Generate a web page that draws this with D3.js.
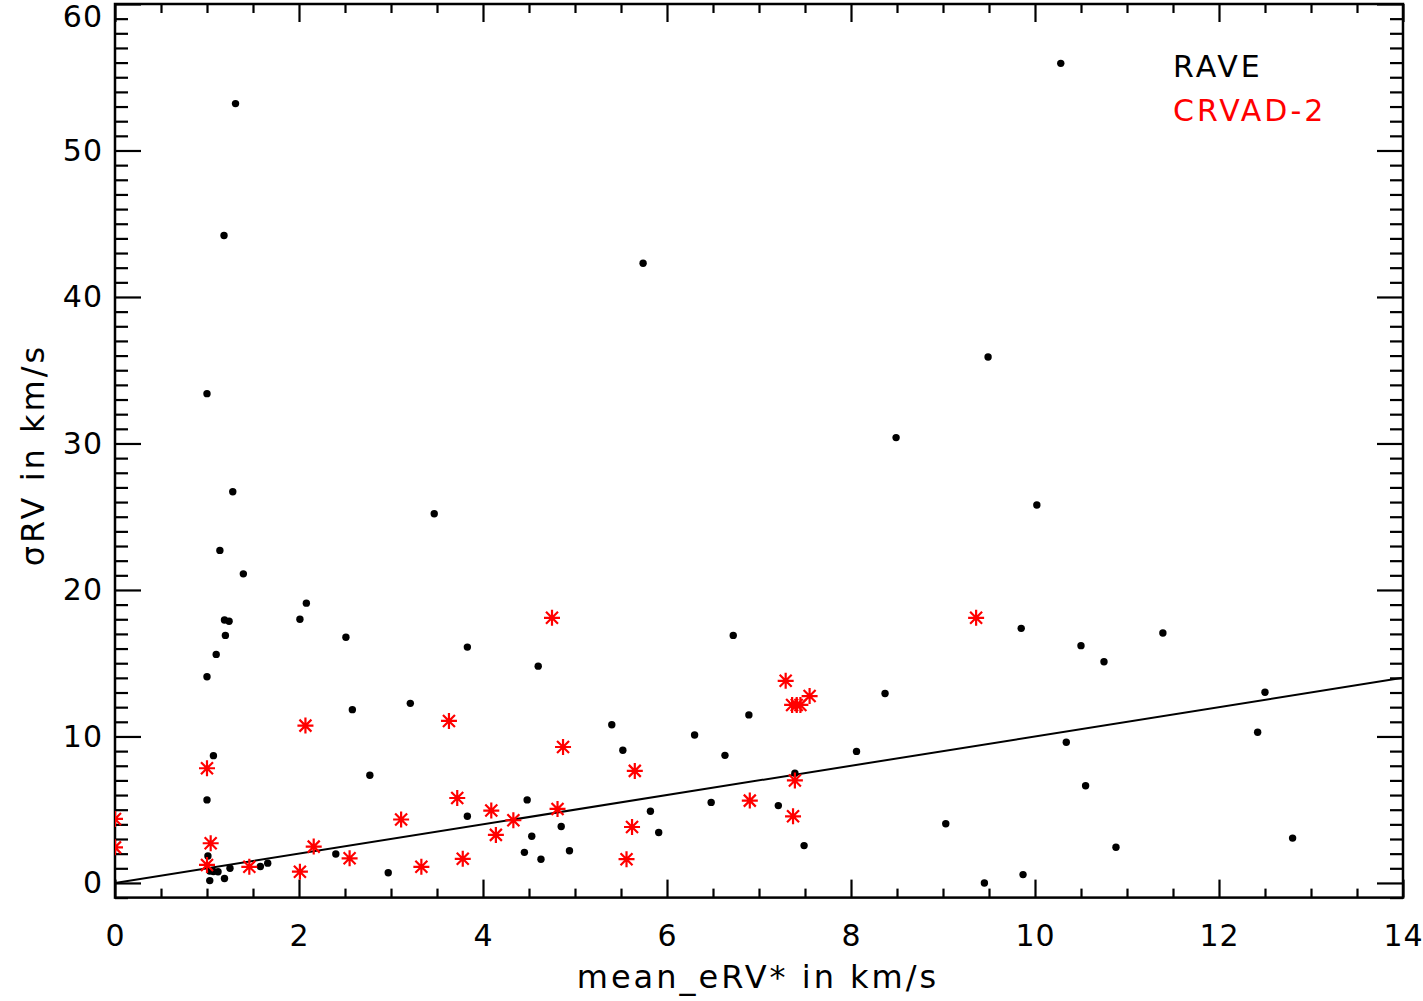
<!DOCTYPE html>
<html>
<head>
<meta charset="utf-8">
<script src="https://cdn.jsdelivr.net/npm/d3@7"></script>
<style>
  body { margin: 0; background: #fff; }
  svg text { font-family: "DejaVu Sans", sans-serif; }
</style>
</head>
<body>
<svg id="chart" width="1423" height="1001"></svg>
<script>
// RAVE repeat observations (black dots)
const raveX = [10.28, 1.31, 5.74, 1.185, 9.49, 1.0, 8.49, 1.28, 3.47, 10.02,
  1.14, 1.395, 2.08, 2.01, 1.19, 1.24, 1.2, 2.51, 9.85, 11.39,
  6.72, 3.83, 10.5, 1.10, 10.75, 4.6, 1.0, 8.37, 12.5, 3.21,
  2.58, 5.4, 6.89, 6.30, 12.42, 10.34, 5.52, 8.06, 6.63, 1.07,
  7.39, 2.77, 7.21, 6.48, 10.55, 1.0, 4.48, 5.82, 3.83, 9.03,
  5.91, 4.53, 4.85, 12.8, 10.88, 7.49, 4.45, 4.94, 2.40, 4.63,
  2.97, 9.87, 9.45, 1.01, 1.03, 1.07, 1.12, 1.03, 1.19, 1.25,
  1.58, 1.66];
const raveY = [55.95, 53.2, 42.3, 44.2, 35.9, 33.4, 30.4, 26.7, 25.2, 25.8,
  22.7, 21.1, 19.1, 18.0, 17.95, 17.86, 16.9, 16.77, 17.38, 17.06,
  16.9, 16.1, 16.2, 15.6, 15.1, 14.8, 14.08, 12.93, 13.02, 12.26,
  11.83, 10.8, 11.47, 10.1, 10.29, 9.6, 9.06, 8.98, 8.71, 8.69,
  7.49, 7.35, 5.28, 5.5, 6.64, 5.67, 5.67, 4.89, 4.55, 4.04,
  3.44, 3.19, 3.85, 3.06, 2.44, 2.55, 2.09, 2.2, 1.98, 1.62,
  0.7, 0.57, 0.0, 1.84, 0.82, 0.78, 0.76, 0.16, 0.3, 1.0,
  1.12, 1.35];

// CRVAD-2 (red asterisks)
const crvadX = [0.0, 0.0, 1.0, 1.04, 1.0, 1.46, 2.01, 2.07, 2.16, 2.55,
  3.11, 3.33, 3.63, 3.72, 3.78, 4.09, 4.14, 4.33, 4.75, 4.81,
  4.87, 5.56, 5.62, 5.65, 6.9, 7.29, 7.36, 7.41, 7.45, 7.55,
  7.39, 7.37, 9.36];
const crvadY = [4.37, 2.43, 7.83, 2.71, 1.23, 1.1, 0.77, 10.74, 2.48, 1.68,
  4.33, 1.1, 11.06, 5.8, 1.65, 4.94, 3.28, 4.28, 18.1, 5.05,
  9.28, 1.62, 3.82, 7.65, 5.62, 13.8, 12.15, 12.15, 12.15, 12.76,
  7.0, 4.55, 18.1];

// one-to-one line
const lineX = [0, 14];
const lineY = [0, 14];

const xTicks = [0, 2, 4, 6, 8, 10, 12, 14];
const yTicks = [0, 10, 20, 30, 40, 50, 60];

const legendNames = ["RAVE", "CRVAD-2"];
const legendColors = ["#000000", "#ff0000"];

const margin = { left: 115, top: 4, right: 20, bottom: 103.4 };
const W = 1423, H = 1001;
const width = W - margin.left - margin.right;   // 1288
const height = H - margin.top - margin.bottom;  // ~893.6

const svg = d3.select("#chart");
const g = svg.append("g").attr("transform", `translate(${margin.left},${margin.top})`);

const x = d3.scaleLinear().domain([0, 14]).range([0, width]);
const y = d3.scaleLinear().domain([-1, 60]).range([height, 0]);

svg.append("defs").append("clipPath").attr("id", "clip")
  .append("rect").attr("width", width).attr("height", height);

const xMinor = d3.range(0, 14.01, 0.5).filter(v => v % 2 !== 0);
const yMinor = d3.range(-1, 60.01, 1).filter(v => v % 10 !== 0);

function styleAxis(sel) {
  sel.select(".domain").remove();
  sel.selectAll("line").attr("stroke", "#000").attr("stroke-width", 2.2);
  sel.selectAll("text").attr("fill", "#000").style("font-size", "30px")
    .style("letter-spacing", "1px");
}

// bottom axis with labels, ticks pointing inward
g.append("g").attr("transform", `translate(0,${height})`)
  .call(d3.axisBottom(x).tickValues(xTicks).tickSize(-18).tickPadding(27).tickFormat(d3.format("d")))
  .call(styleAxis);
g.append("g").attr("transform", `translate(0,${height})`)
  .call(d3.axisBottom(x).tickValues(xMinor).tickSize(-9).tickFormat(""))
  .call(styleAxis);
// top axis
g.append("g")
  .call(d3.axisTop(x).tickValues(xTicks).tickSize(-18).tickFormat(""))
  .call(styleAxis);
g.append("g")
  .call(d3.axisTop(x).tickValues(xMinor).tickSize(-9).tickFormat(""))
  .call(styleAxis);
// left axis
const yAxisG = g.append("g")
  .call(d3.axisLeft(y).tickValues(yTicks).tickSize(-26).tickPadding(12).tickFormat(d3.format("d")))
  .call(styleAxis);
// keep the top label inside the picture
yAxisG.selectAll("text").filter(d => d === 60).attr("dy", "0.72em").attr("y", 1);
g.append("g")
  .call(d3.axisLeft(y).tickValues(yMinor).tickSize(-13).tickFormat(""))
  .call(styleAxis);
// right axis
g.append("g").attr("transform", `translate(${width},0)`)
  .call(d3.axisRight(y).tickValues(yTicks).tickSize(-26).tickFormat(""))
  .call(styleAxis);
g.append("g").attr("transform", `translate(${width},0)`)
  .call(d3.axisRight(y).tickValues(yMinor).tickSize(-13).tickFormat(""))
  .call(styleAxis);

// frame
g.append("rect").attr("width", width).attr("height", height)
  .attr("fill", "none").attr("stroke", "#000").attr("stroke-width", 2.5);

const plot = g.append("g").attr("clip-path", "url(#clip)");

// 1:1 line
plot.append("path")
  .datum(d3.zip(lineX, lineY))
  .attr("d", d3.line().x(d => x(d[0])).y(d => y(d[1])))
  .attr("fill", "none").attr("stroke", "#000").attr("stroke-width", 2);

// RAVE dots
plot.append("g").selectAll("circle")
  .data(d3.zip(raveX, raveY))
  .enter().append("circle")
  .attr("cx", d => x(d[0]))
  .attr("cy", d => y(d[1]))
  .attr("r", 3.7)
  .attr("fill", "#000");

// CRVAD-2 asterisks (8 arms)
const r = 8, rd = 6;
const star = `M${-r},0L${r},0M0,${-r}L0,${r}M${-rd},${-rd}L${rd},${rd}M${-rd},${rd}L${rd},${-rd}`;
plot.append("g").selectAll("path")
  .data(d3.zip(crvadX, crvadY))
  .enter().append("path")
  .attr("transform", d => `translate(${x(d[0])},${y(d[1])})`)
  .attr("d", star)
  .attr("fill", "none")
  .attr("stroke", "#ff0000")
  .attr("stroke-width", 2.2);

// legend
g.selectAll("text.legend")
  .data(legendNames)
  .enter().append("text")
  .attr("class", "legend")
  .attr("x", 1058)
  .attr("y", (d, i) => 73 + i * 44)
  .attr("fill", (d, i) => legendColors[i])
  .style("font-size", "30px")
  .style("letter-spacing", "3px")
  .text(d => d);

// axis titles
svg.append("text")
  .attr("x", 758)
  .attr("y", 988)
  .attr("text-anchor", "middle")
  .style("font-size", "32px")
  .style("letter-spacing", "3px")
  .text("mean_eRV* in km/s");

svg.append("text")
  .attr("transform", "translate(33,455) rotate(-90)")
  .attr("text-anchor", "middle")
  .attr("dy", "0.35em")
  .style("font-size", "32px")
  .style("letter-spacing", "3px")
  .text("σRV in km/s");
</script>
</body>
</html>
